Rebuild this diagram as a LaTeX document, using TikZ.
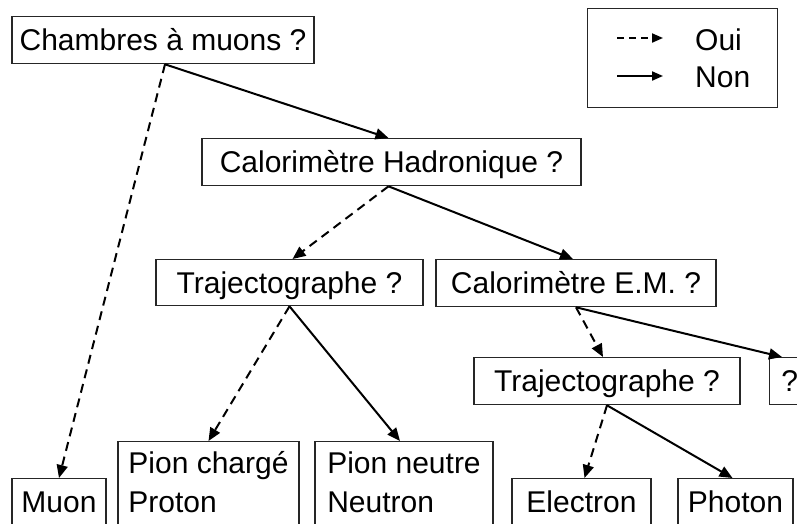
\documentclass[tikz,border=0pt]{standalone}
\usepackage{fontspec}
\setmainfont{Liberation Sans}
\usetikzlibrary{arrows.meta}
\begin{document}
\begin{tikzpicture}[x=1pt,y=-1pt,
  box/.style={draw=black!85, line width=1.3pt, inner xsep=0pt, inner ysep=0pt,
    font=\fontsize{30}{39}\selectfont, anchor=north, text height=34pt, text depth=13pt},
  lbl/.style={inner sep=0pt, font=\fontsize{30}{39}\selectfont, anchor=base west},
  yes/.style={-{Triangle[length=13pt,width=11pt]}, line width=2pt, dash pattern=on 9pt off 6pt},
  no/.style={-{Triangle[length=13pt,width=11pt]}, line width=2pt},
]
\useasboundingbox (0,0) rectangle (797,523);
\clip (0,0) rectangle (797,523);

% decision boxes
\node[box, minimum width=302pt] (cham) at (163,16) {Chambres à muons ?};
\node[box, minimum width=379pt] (hadr) at (391.5,138) {Calorimètre Hadronique ?};
\node[box, minimum width=267pt, text depth=12pt] (traj1) at (289.5,259) {Trajectographe ?};
\node[box, minimum width=280pt, text depth=13pt] (em) at (576,259) {Calorimètre E.M. ?};
\node[box, minimum width=266pt] (traj2) at (607,357) {Trajectographe ?};
\node[box, anchor=north west, minimum width=40pt, inner xsep=8pt] (q) at (769,357) {?};

% result boxes (cut by the lower edge)
\node[box, minimum width=94pt, text depth=40pt] (muon) at (59,478) {Muon};
\node[box, minimum width=181pt, text height=32pt, text depth=90pt] (pc) at (208.5,441)
  {\begin{tabular}[t]{@{}l@{}}Pion chargé\\Proton\end{tabular}};
\node[box, minimum width=178pt, text height=32pt, text depth=90pt] (pn) at (404,441)
  {\begin{tabular}[t]{@{}l@{}}Pion neutre\\Neutron\end{tabular}};
\node[box, minimum width=139pt, text depth=40pt] (elec) at (581.5,478) {Electron};
\node[box, minimum width=115pt, text depth=40pt] (phot) at (735.5,478) {Photon};

% legend
\node[draw=black!85, line width=1.3pt, anchor=north west, inner sep=0pt,
  minimum width=190pt, minimum height=99pt] (leg) at (587,8) {};
\node[lbl] (oui) at (695,50) {Oui};
\node[lbl] (non) at (695,87) {Non};
\coordinate (l1s) at (617,38);
\coordinate (l1e) at (663,38);
\coordinate (l2s) at (617,76);
\coordinate (l2e) at (663,76);
\draw[yes, -{Triangle[length=11pt,width=9pt]}, dash pattern=on 7pt off 5pt] (l1s) -- (l1e);
\draw[no, -{Triangle[length=11pt,width=9pt]}] (l2s) -- (l2e);

% connectors
\draw[yes] ([xshift=2pt]cham.south) -- (muon.north);
\draw[no] ([xshift=2pt]cham.south) -- ([xshift=-3pt]hadr.north);
\draw[yes] ([xshift=-3pt]hadr.south) -- ([xshift=3pt]traj1.north);
\draw[no] ([xshift=-3pt]hadr.south) -- ([xshift=-3pt]em.north);
\draw[yes] (traj1.south) -- (pc.north);
\draw[no] (traj1.south) -- ([xshift=-4pt]pn.north);
\draw[yes] (em.south) -- ([xshift=-4pt]traj2.north);
\draw[no] (em.south) -- ([xshift=13pt]q.north west);
\draw[yes] (traj2.south) -- ([xshift=3pt]elec.north);
\draw[no] (traj2.south) -- ([xshift=-3pt]phot.north);
\end{tikzpicture}
\end{document}
